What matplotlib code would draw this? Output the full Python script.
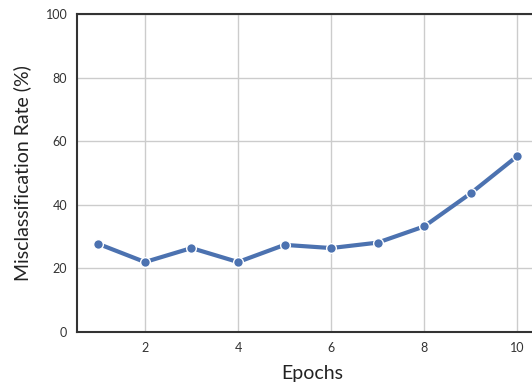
import numpy as np
import matplotlib.pyplot as plt

epochs = [1, 2, 3, 4, 5, 6, 7, 8, 9, 10]
misclass_rate = [27.7, 22.0, 26.4, 22.0, 27.4, 26.4, 28.1, 33.2, 43.6, 55.3]
yticks = [0, 20, 40, 60, 80, 100]
xticks = [2, 4, 6, 8, 10]

plt.rcParams['font.family'] = ['Lato', 'DejaVu Sans']

fig = plt.figure(figsize=(5.32, 3.9), dpi=100)
ax = fig.add_axes([77/532, 58/390, 470/532, 318/390])

ax.grid(True, color="#cccccc", linewidth=1.0)
ax.set_axisbelow(True)
ax.plot(epochs, misclass_rate, color="#4c72b0", linewidth=3, marker="o",
        markersize=7, markeredgecolor="white", markeredgewidth=1.0)

ax.set_xlim(0.54, 10.64)
ax.set_ylim(0, 100)
ax.set_xticks(xticks)
ax.set_yticks(yticks)
ax.tick_params(length=0, labelsize=9, colors="#333333", pad=7)

for side in ["left", "bottom", "top", "right"]:
    ax.spines[side].set_color("#333333")
    ax.spines[side].set_linewidth(1.5)

ax.set_xlabel("Epochs", fontsize=14, color="#222222", labelpad=8)
ax.set_ylabel("Misclassification Rate (%)", fontsize=14, color="#222222", labelpad=10)

plt.savefig("out.png", dpi=100)
